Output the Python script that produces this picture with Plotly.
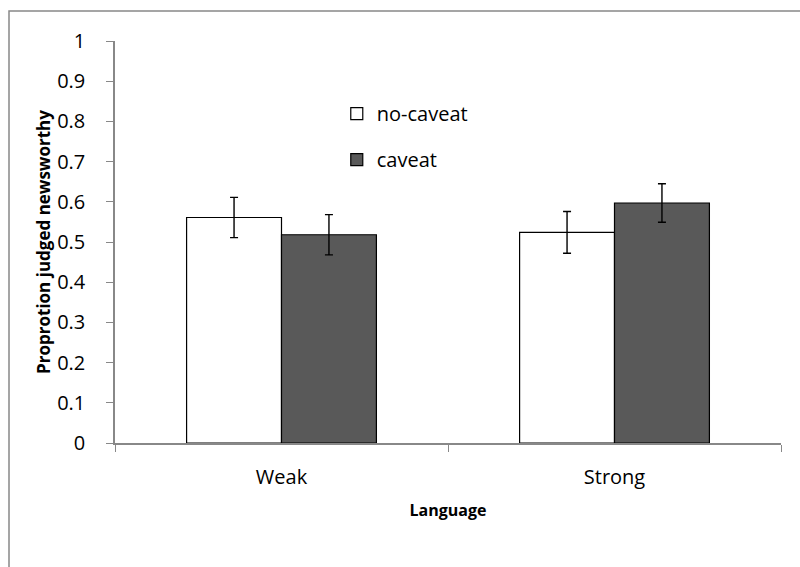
import plotly.graph_objects as go

categories = ["Weak", "Strong"]
no_caveat = [0.561, 0.524]
no_caveat_err = [0.050, 0.052]
caveat = [0.518, 0.597]
caveat_err = [0.050, 0.048]

FONT = "Open Sans"

fig = go.Figure()
fig.add_trace(go.Bar(
    x=categories, y=no_caveat, name="no-caveat", legendgroup="a",
    marker=dict(color="white", line=dict(color="black", width=1.2)),
    error_y=dict(type="data", array=no_caveat_err, color="black", thickness=1.4, width=4),
))
fig.add_trace(go.Bar(
    x=categories, y=caveat, name="caveat", legendgroup="b",
    marker=dict(color="#595959", line=dict(color="black", width=1.2)),
    error_y=dict(type="data", array=caveat_err, color="black", thickness=1.4, width=4),
))

fig.update_layout(
    width=800, height=567,
    margin=dict(l=115, r=19, t=41, b=124, autoexpand=False),
    paper_bgcolor="white", plot_bgcolor="white",
    font=dict(family=FONT, size=20, color="black"),
    barmode="group", bargap=0.43, bargroupgap=0,
    legend=dict(x=0.333, y=0.868, xanchor="left", yanchor="top",
                bgcolor="rgba(0,0,0,0)", tracegroupgap=17,
                font=dict(family=FONT, size=20)),
    showlegend=True,
)
fig.update_xaxes(
    showline=True, linecolor="#888888", linewidth=1.5,
    ticks="outside", tickson="boundaries", ticklen=7, tickcolor="#888888",
    tickfont=dict(size=20), ticklabelstandoff=15,
    title=dict(text="<b>Language</b>", font=dict(size=16), standoff=16),
)
fig.update_yaxes(
    range=[0, 1], dtick=0.1, tickformat="~g",
    showline=True, linecolor="#888888", linewidth=1.5,
    ticks="outside", ticklen=7, tickcolor="#888888",
    showgrid=False, zeroline=False,
    tickfont=dict(size=20), ticklabelstandoff=17,
    title=dict(text="<b>Proprotion judged newsworthy</b>", font=dict(size=17), standoff=2),
)
fig.add_shape(type="rect", xref="paper", yref="paper",
              x0=(9 - 115) / 666, x1=1.1, y0=-0.5, y1=(443 - 11) / 402,
              line=dict(color="#888888", width=1.5), fillcolor="rgba(0,0,0,0)", layer="below")

fig.write_html("out.html", config={"displayModeBar": False},
               post_script="document.body.style.margin='0';document.body.style.overflow='hidden';")
